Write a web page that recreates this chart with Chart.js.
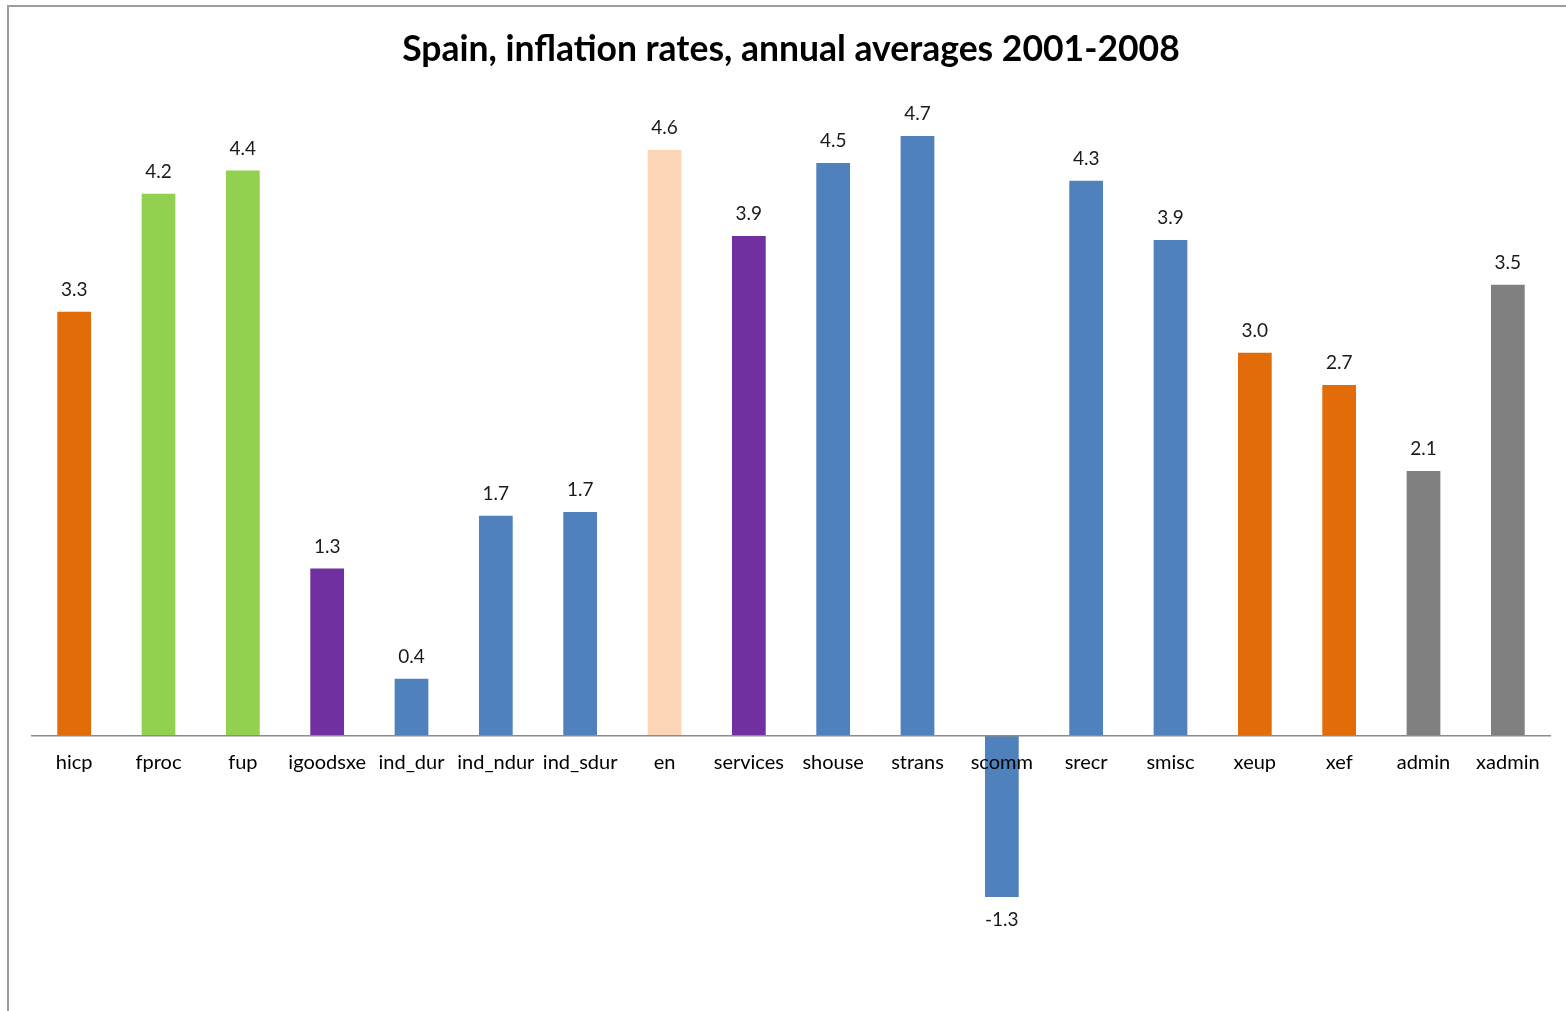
<!DOCTYPE html>
<html>
<head>
<meta charset="utf-8">
<title>Spain, inflation rates, annual averages 2001-2008</title>
<script src="https://cdn.jsdelivr.net/npm/chart.js@4/dist/chart.umd.min.js"></script>
<style>
  html, body { margin: 0; padding: 0; background: #fff; }
  #wrap { position: relative; width: 1566px; height: 1011px; }
</style>
</head>
<body>
<div id="wrap"><canvas id="chart" width="1566" height="1011"></canvas></div>
<script>
// HICP components, average annual inflation 2001-2008 (%)
const categories = ['hicp', 'fproc', 'fup', 'igoodsxe', 'ind_dur', 'ind_ndur', 'ind_sdur', 'en',
  'services', 'shouse', 'strans', 'scomm', 'srecr', 'smisc', 'xeup', 'xef', 'admin', 'xadmin'];
const rates = [3.30, 4.22, 4.40, 1.30, 0.44, 1.71, 1.74, 4.56,
  3.89, 4.46, 4.67, -1.26, 4.32, 3.86, 2.98, 2.73, 2.06, 3.51];

// colour groups: headline/ex-items, food, goods/services aggregates, sub-indices, energy, administered
const ORANGE = '#E36C0A', GREEN = '#92D050', PURPLE = '#7030A0', BLUE = '#4F81BD', PEACH = '#FBD5B5', GREY = '#808080';
const barColors = [ORANGE, GREEN, GREEN, PURPLE, BLUE, BLUE, BLUE, PEACH,
  PURPLE, BLUE, BLUE, BLUE, BLUE, BLUE, ORANGE, ORANGE, GREY, GREY];

const FONT = 'Lato, "Open Sans", "DejaVu Sans", sans-serif';

// frame of the chart object plus white background
const framePlugin = {
  id: 'frame',
  beforeDraw(chart) {
    const ctx = chart.ctx;
    ctx.save();
    ctx.fillStyle = '#ffffff';
    ctx.fillRect(0, 0, chart.width, chart.height);
    ctx.strokeStyle = '#9c9c9c';
    ctx.lineWidth = 2;
    ctx.beginPath();
    ctx.moveTo(8, chart.height + 5);
    ctx.lineTo(8, 6);
    ctx.lineTo(chart.width + 5, 6);
    ctx.stroke();
    ctx.restore();
  }
};

// value labels above positive bars and below negative bars
const valueLabels = {
  id: 'valueLabels',
  afterDatasetsDraw(chart) {
    const ctx = chart.ctx;
    const meta = chart.getDatasetMeta(0);
    const data = chart.data.datasets[0].data;
    ctx.save();
    ctx.font = '19px ' + FONT;
    ctx.fillStyle = '#1a1a1a';
    ctx.textAlign = 'center';
    ctx.textBaseline = 'middle';
    meta.data.forEach((bar, i) => {
      const v = data[i];
      const y = v >= 0 ? bar.y - 22 : bar.y + 23;
      ctx.fillText(v.toFixed(1), bar.x, y);
    });
    ctx.restore();
  }
};

new Chart(document.getElementById('chart'), {
  type: 'bar',
  data: {
    labels: categories,
    datasets: [{
      data: rates,
      backgroundColor: barColors,
      borderWidth: 0,
      categoryPercentage: 1.0,
      barPercentage: 0.4
    }]
  },
  options: {
    responsive: false,
    animation: false,
    layout: { padding: { left: 32, right: 16, top: 10, bottom: 19 } },
    plugins: {
      legend: { display: false },
      tooltip: { enabled: false },
      title: {
        display: true,
        text: 'Spain, inflation rates, annual averages 2001-2008',
        color: '#000000',
        font: { family: FONT, size: 35.5, weight: 'bold' },
        padding: { top: 18, bottom: 23 }
      }
    },
    scales: {
      x: {
        position: { y: 0 },
        grid: { display: false, drawTicks: false },
        border: { display: true, color: '#8c8c8c', width: 1.5, z: 1 },
        ticks: {
          z: 1,
          color: '#000000',
          font: { family: FONT, size: 20 },
          padding: 15,
          autoSkip: false,
          maxRotation: 0
        }
      },
      y: {
        display: false,
        min: -2,
        max: 5
      }
    }
  },
  plugins: [framePlugin, valueLabels]
});
</script>
</body>
</html>
